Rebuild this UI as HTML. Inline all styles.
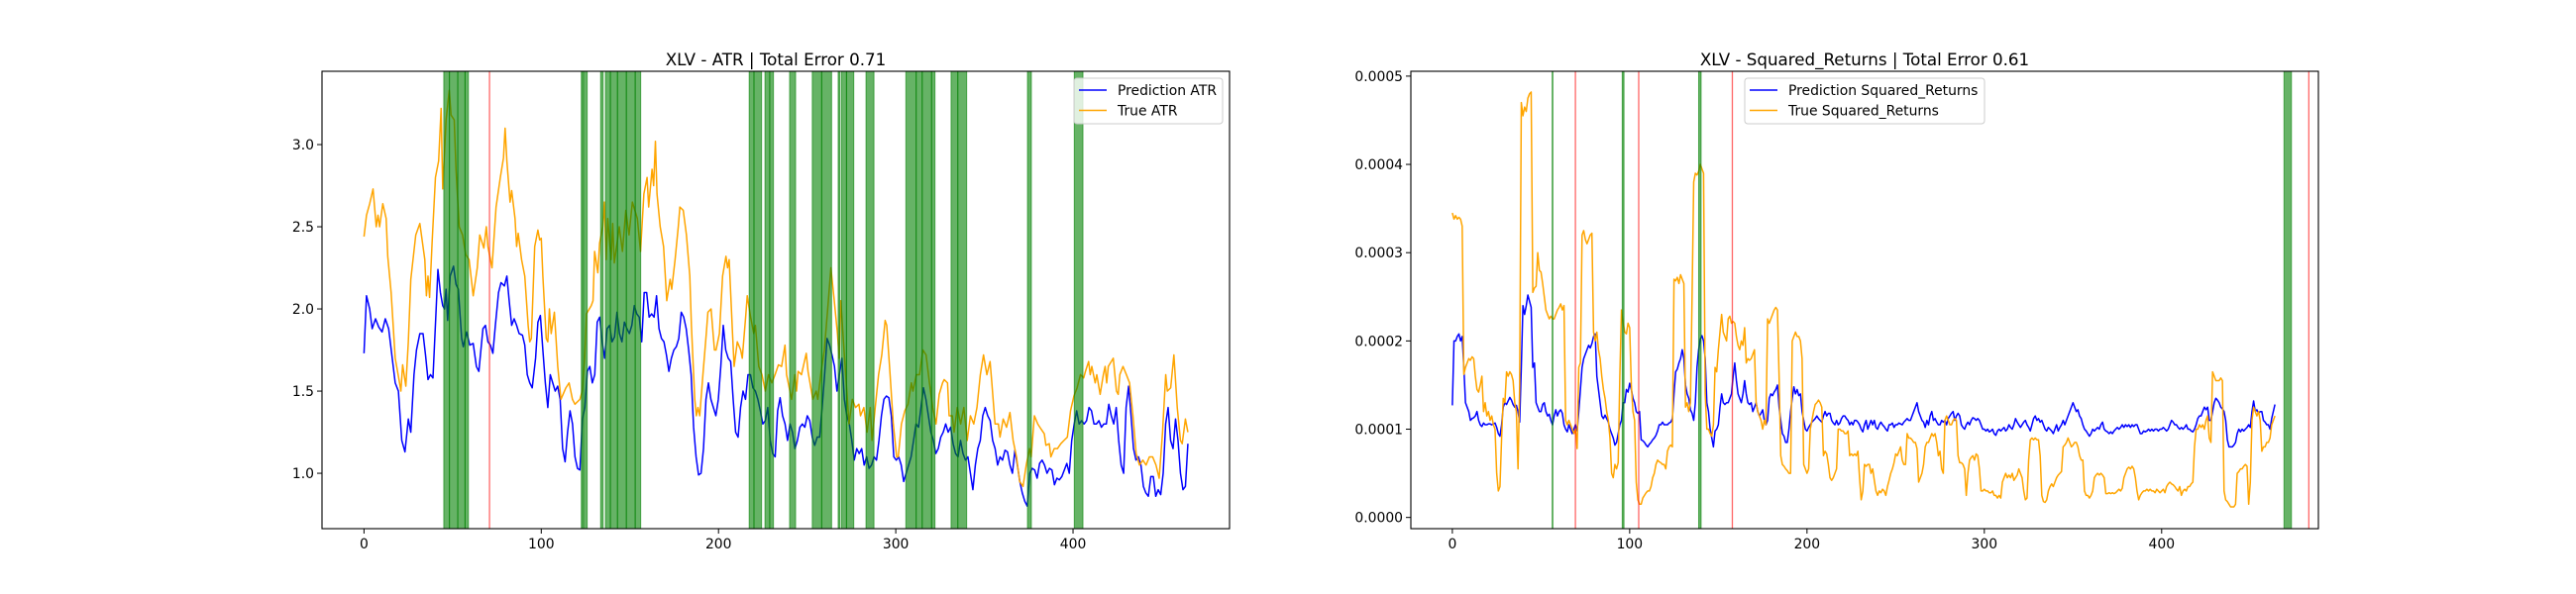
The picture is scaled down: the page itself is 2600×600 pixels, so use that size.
<!DOCTYPE html>
<html><head><meta charset="utf-8"><style>
html,body{margin:0;padding:0;background:#fff;}
svg{display:block;font-family:"DejaVu Sans","Liberation Sans",sans-serif;}
</style></head><body>
<svg id="fig" width="2600" height="600" viewBox="0 0 2600 600" xmlns="http://www.w3.org/2000/svg">
<rect x="0" y="0" width="2600" height="600" fill="#fff"/>
</svg>
<script>
// ---------- Left chart data (ATR) ----------
const atrXTicks = [0,100,200,300,400];
const atrYTicks = [1.0,1.5,2.0,2.5,3.0];
const atrPredHeadIdx = [0,1.4,3.2,4.6,6.5,8.3,10.2,12.0,13.9,15.7,17.6,19.4,21.3,23.1,25.0,26.4,28.2,29.6,31.5,33.3,34.7,36.1,37.5,38.9,40.7,41.7,43.1,44.4,45.4,46.3,47.2,48.6,50.5,51.9,53.2,55.1,56.0,57.9,59.7,61.6,63.4,64.8,67.1,68.5,69.9,71.3,72.7,74.1,75.9,77.3,79.2,80.6,81.9,83.3,84.7,86.1,87.5,89.4,90.7,92.1,93.5,94.9,96.8,98.1,99.5];
const atrPredHead = [1.73,2.08,2.0,1.88,1.94,1.89,1.86,1.94,1.88,1.72,1.55,1.5,1.2,1.13,1.33,1.25,1.6,1.75,1.85,1.85,1.72,1.57,1.6,1.58,2.0,2.24,2.1,2.02,2.0,2.12,1.93,2.2,2.26,2.15,2.12,1.82,1.77,1.86,1.78,1.79,1.65,1.62,1.88,1.9,1.8,1.78,1.73,1.9,2.1,2.16,2.14,2.2,2.05,1.9,1.94,1.9,1.85,1.84,1.78,1.6,1.55,1.52,1.7,1.92,1.96];
const atrPredTailRange = [100.9,464.8];
const atrPredTail = [1.75,1.55,1.4,1.6,1.55,1.5,1.53,1.45,1.15,1.07,1.25,1.38,1.3,1.1,1.03,1.02,1.33,1.4,1.62,1.65,1.55,1.6,1.92,1.95,1.8,1.7,1.88,1.9,1.8,1.83,1.98,1.85,1.8,1.92,1.88,1.85,1.9,2.02,1.97,1.95,1.8,2.1,2.1,1.95,1.97,1.95,2.08,1.88,1.82,1.8,1.72,1.62,1.7,1.75,1.77,1.82,1.98,1.95,1.88,1.75,1.6,1.28,1.1,0.99,1.0,1.15,1.45,1.55,1.45,1.4,1.35,1.45,1.65,1.9,1.75,1.7,1.68,1.45,1.25,1.22,1.4,1.5,1.45,1.6,1.6,1.52,1.5,1.45,1.38,1.3,1.32,1.4,1.2,1.12,1.1,1.38,1.46,1.35,1.3,1.2,1.3,1.25,1.15,1.2,1.28,1.3,1.28,1.35,1.32,1.22,1.17,1.22,1.22,1.4,1.6,1.82,1.78,1.72,1.65,1.5,1.6,1.7,1.45,1.35,1.3,1.2,1.08,1.15,1.12,1.15,1.05,1.1,1.03,1.05,1.1,1.08,1.2,1.35,1.45,1.47,1.46,1.35,1.1,1.08,1.1,1.05,0.95,1.0,1.05,1.1,1.2,1.3,1.28,1.4,1.52,1.45,1.35,1.25,1.2,1.12,1.15,1.22,1.25,1.3,1.25,1.28,1.18,1.12,1.1,1.2,1.12,1.08,1.1,1.0,0.9,1.05,1.15,1.2,1.35,1.4,1.35,1.32,1.2,1.15,1.05,1.1,1.08,1.14,1.13,1.05,1.0,1.14,1.05,0.95,0.88,0.83,0.8,1.0,1.03,1.02,0.97,1.06,1.08,1.05,1.0,1.03,1.02,0.93,0.97,0.96,0.98,1.02,1.06,1.0,1.2,1.3,1.38,1.3,1.32,1.3,1.32,1.4,1.38,1.3,1.3,1.32,1.28,1.3,1.3,1.42,1.35,1.3,1.4,1.2,1.05,1.0,1.4,1.53,1.35,1.15,1.08,1.1,1.05,0.92,0.88,0.86,0.98,0.98,0.86,0.9,0.87,1.0,1.3,1.4,1.2,1.15,1.33,1.2,1.0,0.9,0.92,1.18];
const atrTrueIdx = [0,1.4,3.2,5.1,6.9,7.9,8.8,10.6,12.5,13.4,15.3,17.6,19.9,20.8,21.8,23.6,25.0,26.4,29.2,31.5,34.3,35.2,36.1,37.0,38.4,40.3,42.1,43.5,44.4,46.3,48.1,49.1,50.9,51.9,53.7,55.6,57.4,59.3,61.6,63.9,65.3,67.6,69.0,69.9,72.2,74.5,76.9,78.7,79.6,80.6,82.4,83.3,85.2,86.1,87.0,88.9,90.7,92.6,93.5,94.4,96.3,98.1,99.1,100,100.9,102.8,103.7,104.6,105.6,107.4,109.3,111.1,113.9,115.7,117.6,119.0,121.8,123.1,124.5,125.5,128.2,129.2,130.1,131.9,132.9,134.7,135.6,136.6,137.5,139.4,140.3,141.2,144.0,145.8,147.7,149.5,151.4,154.2,156.0,157.9,159.7,160.6,162.5,163.4,164.4,165.3,167.1,169.0,170.8,172.7,173.6,175.5,177.3,178.2,180.1,181.9,183.8,184.7,186.6,187.5,188.4,189.4,191.2,193.1,194.0,195.8,197.7,198.6,200.5,202.3,204.2,205.1,206.0,207.9,208.8,210.6,212.5,213.4,215.3,216.2,218.1,219.9,220.8,222.7,224.5,226.4,228.2,230.1,231.9,233.8,235.6,237.5,238.4,241.2,243.1,244.0,244.9,246.8,249.5,250.5,253.2,255.1,256.0,257.9,259.7,261.6,263.4,265.3,267.1,268.1,269.0,270.8,272.7,273.6,275.5,277.3,279.2,280.1,282.0,283.8,285.6,286.6,288.4,290.3,292.1,294.0,294.9,296.8,298.6,300.5,301.4,303.2,305.1,306.9,308.8,309.7,311.6,313.4,315.3,317.1,319.0,320.8,322.7,324.5,326.4,327.3,329.2,330.1,331.9,332.9,334.7,336.6,338.4,340.3,342.1,344.0,345.8,347.7,349.5,351.4,353.2,354.2,356.0,357.9,358.8,360.6,362.5,364.4,366.2,368.1,369.9,371.8,373.6,375.5,376.4,378.2,380.1,381.9,383.8,384.7,386.6,387.5,389.4,391.2,393.1,394.9,396.8,398.6,400.5,402.3,404.2,406.0,407.0,408.8,409.7,410.6,412.5,413.4,415.3,417.1,418.1,419.0,419.9,422.7,424.5,425.5,426.4,428.2,430.1,431.9,433.8,435.6,437.5,439.4,441.2,443.1,444.9,446.8,448.6,450.5,452.3,453.2,455.1,456.9,458.8,460.6,461.6,463.4,464.8];
const atrTrue = [2.44,2.57,2.64,2.73,2.5,2.57,2.5,2.64,2.55,2.32,2.1,1.7,1.56,1.5,1.66,1.53,1.8,2.18,2.45,2.52,2.3,2.08,2.2,2.07,2.4,2.8,2.9,3.22,2.73,3.15,3.33,3.18,3.15,2.85,2.5,2.45,2.33,2.3,2.08,2.25,2.45,2.37,2.5,2.38,2.25,2.62,2.8,2.92,3.1,2.9,2.65,2.72,2.55,2.38,2.46,2.3,2.2,1.9,1.8,1.82,2.38,2.48,2.42,2.43,2.2,1.82,1.8,2.0,1.85,1.98,1.65,1.45,1.52,1.55,1.45,1.42,1.45,1.5,1.7,1.97,2.02,2.05,2.35,2.22,2.4,2.5,2.65,2.3,2.55,2.3,2.52,2.28,2.5,2.35,2.6,2.45,2.65,2.55,2.35,2.7,2.8,2.62,2.85,2.75,3.02,2.7,2.5,2.38,2.05,2.18,2.12,2.3,2.5,2.62,2.6,2.45,2.2,1.9,1.45,1.35,1.4,1.35,1.6,1.85,1.98,2.0,1.75,1.75,1.85,2.2,2.32,2.25,2.3,1.85,1.65,1.8,1.75,1.7,1.95,2.08,1.95,1.85,1.9,1.65,1.6,1.5,1.6,1.55,1.6,1.66,1.65,1.78,1.6,1.45,1.6,1.5,1.62,1.6,1.73,1.62,1.45,1.5,1.45,1.62,1.75,2.0,2.25,2.05,1.85,1.7,2.05,1.75,1.45,1.3,1.45,1.4,1.42,1.35,1.4,1.25,1.4,1.2,1.4,1.6,1.72,1.93,1.9,1.6,1.3,1.1,1.1,1.3,1.38,1.42,1.55,1.5,1.6,1.6,1.75,1.72,1.55,1.4,1.3,1.48,1.55,1.57,1.55,1.35,1.35,1.25,1.4,1.3,1.4,1.2,1.35,1.3,1.4,1.6,1.72,1.6,1.68,1.55,1.3,1.3,1.22,1.33,1.28,1.37,1.2,1.1,0.95,0.92,1.05,1.15,1.1,1.35,1.3,1.27,1.24,1.17,1.18,1.1,1.15,1.15,1.18,1.2,1.22,1.38,1.47,1.52,1.6,1.58,1.62,1.68,1.6,1.65,1.55,1.6,1.48,1.6,1.65,1.55,1.65,1.7,1.5,1.48,1.6,1.65,1.6,1.55,1.35,1.12,1.05,1.08,1.05,1.1,1.1,1.05,0.97,1.25,1.6,1.5,1.52,1.72,1.4,1.2,1.18,1.33,1.25];
const atrGreenStart = [45.0,48.2,52.9,57.0,122.6,123.8,133.5,136.2,139,143,148,153,217.3,220,226.2,228.9,240.1,252.9,258.2,267.5,269.4,272.2,283.2,305.7,311.5,314.9,320.2,331.2,335,374.3,400.7];
const atrGreenEnd   = [48.2,52.9,57.0,58.9,123.4,125.9,134.9,139,143,148,153,156.1,220,224.3,228.9,231.0,243.5,258.2,263.8,268.5,272.2,276.3,287.7,311.5,314.9,320.2,322.1,335,340.0,376.5,405.6];
const atrRedLines = [70.8];

// ---------- Right chart data (Squared Returns, units 1e-4) ----------
const srXTicks = [0,100,200,300,400];
const srYTicks = [0,1,2,3,4,5];
const srRange = [0,463.9];
const srPred = [1.27,2.0,2.0,2.05,2.08,2.0,2.05,1.7,1.3,1.25,1.2,1.1,1.12,1.13,1.15,1.2,1.1,1.05,1.03,1.07,1.05,1.05,1.06,1.06,1.05,1.06,1.07,1.02,0.95,0.92,1.05,1.25,1.3,1.28,1.32,1.36,1.33,1.28,1.25,1.27,1.2,1.08,1.7,2.4,2.3,2.4,2.52,2.45,2.38,1.7,1.75,1.3,1.25,1.2,1.2,1.28,1.3,1.2,1.15,1.17,1.1,1.05,1.15,1.22,1.15,1.2,1.22,1.18,1.05,1.0,0.97,1.05,1.0,0.95,1.0,1.05,0.98,1.2,1.45,1.7,1.8,1.85,1.9,1.95,1.92,1.97,2.05,2.08,1.6,1.45,1.3,1.15,1.12,1.16,1.12,1.08,1.0,0.95,0.9,0.82,0.85,0.95,1.05,1.1,1.3,1.3,1.45,1.42,1.52,1.45,1.35,1.3,1.2,1.18,1.2,0.88,0.87,0.85,0.82,0.8,0.83,0.85,0.88,0.9,0.93,0.98,1.05,1.05,1.08,1.05,1.05,1.05,1.07,1.08,1.12,1.4,1.65,1.68,1.75,1.8,1.9,1.8,1.5,1.4,1.35,1.22,1.18,1.1,1.3,1.7,1.9,2.02,2.06,2.0,1.8,1.3,1.2,1.0,0.9,0.8,0.98,1.0,1.05,1.25,1.4,1.3,1.28,1.3,1.3,1.35,1.4,1.6,1.75,1.55,1.4,1.35,1.3,1.4,1.55,1.4,1.3,1.28,1.3,1.2,1.25,1.3,1.2,1.15,1.18,1.22,1.1,1.05,1.1,1.35,1.4,1.38,1.42,1.45,1.5,1.25,1.1,0.95,0.92,0.85,0.85,1.0,1.2,1.35,1.48,1.4,1.45,1.38,1.4,1.2,1.1,1.0,0.98,1.02,1.05,1.08,1.1,1.12,1.15,1.12,1.1,1.08,1.15,1.2,1.15,1.18,1.18,1.1,1.07,1.05,1.1,1.05,1.07,1.12,1.15,1.15,1.12,1.1,1.05,1.08,1.05,1.1,1.1,1.08,1.05,1.0,0.97,1.05,1.1,1.0,1.05,1.1,1.05,1.1,1.02,1.0,1.05,1.08,1.05,1.03,1.0,0.98,1.05,1.05,1.07,1.02,1.05,1.05,1.07,1.06,1.05,1.08,1.1,1.12,1.1,1.1,1.15,1.2,1.25,1.3,1.2,1.15,1.1,1.08,1.02,1.1,1.05,1.15,1.2,1.1,1.12,1.08,1.05,1.05,1.1,1.08,1.1,1.05,1.12,1.15,1.18,1.2,1.1,1.15,1.18,1.15,1.05,1.02,1.0,1.05,1.08,1.05,1.1,1.13,1.12,1.1,1.12,1.1,1.05,1.0,1.0,0.98,1.0,0.97,0.98,1.0,0.95,0.93,0.98,1.0,0.98,1.0,1.02,0.98,1.0,1.05,1.02,1.0,1.05,1.12,1.08,1.05,1.02,1.05,1.08,1.1,1.05,1.02,0.98,1.05,1.12,1.15,1.1,1.12,1.08,1.1,1.05,1.0,0.98,1.02,1.0,0.98,0.95,1.0,1.05,0.98,1.02,1.05,1.1,1.05,1.1,1.15,1.2,1.25,1.3,1.25,1.2,1.22,1.15,1.12,1.05,1.0,0.98,0.95,0.92,0.95,1.0,0.98,1.0,1.02,1.0,1.05,1.08,1.0,0.98,0.97,0.95,0.97,0.95,0.98,1.0,1.02,1.0,1.02,1.05,1.02,1.05,1.03,1.05,1.02,1.05,1.03,1.05,1.05,1.0,0.95,0.95,0.98,0.97,0.98,1.0,0.98,1.0,0.98,1.0,1.0,0.98,1.0,1.0,1.02,1.0,0.98,1.0,1.05,1.1,1.08,1.05,1.05,1.02,1.0,1.02,1.0,1.02,1.05,1.0,1.0,0.98,0.97,1.0,1.05,1.12,1.15,1.15,1.2,1.25,1.22,1.25,1.1,1.1,1.2,1.3,1.35,1.33,1.3,1.25,1.23,1.2,1.1,0.88,0.8,0.8,0.8,0.82,0.85,0.95,1.0,0.97,1.0,0.98,1.0,1.02,1.05,1.02,1.2,1.32,1.2,1.22,1.18,1.2,1.2,1.1,1.08,1.05,1.05,1.0,1.12,1.2,1.28];
const srTrue = [3.45,3.38,3.42,3.38,3.4,3.38,3.3,1.62,1.7,1.75,1.8,1.78,1.82,1.8,1.6,1.45,1.42,1.5,1.6,1.2,1.3,1.15,1.2,1.1,1.15,1.05,1.0,0.5,0.3,0.35,0.9,1.35,1.3,1.65,1.6,1.65,1.62,1.55,1.3,1.2,0.55,1.5,4.7,4.55,4.65,4.6,4.75,4.8,4.82,2.55,2.6,2.62,3.0,2.8,2.78,2.65,2.5,2.35,2.3,2.25,2.28,2.25,2.25,2.3,2.35,2.38,2.42,2.35,2.4,1.1,1.05,1.1,1.05,1.0,0.95,1.0,0.78,1.7,1.75,3.2,3.25,3.15,3.1,3.15,3.2,3.22,2.1,2.0,2.1,1.9,1.8,1.6,1.45,1.35,1.2,1.1,0.9,0.5,0.45,0.6,0.55,0.62,1.6,2.35,2.2,2.1,2.08,2.2,2.15,1.5,1.2,1.1,0.4,0.2,0.15,0.15,0.22,0.25,0.28,0.3,0.3,0.35,0.45,0.5,0.6,0.65,0.63,0.62,0.6,0.6,0.55,0.75,0.8,0.82,0.8,2.7,2.68,2.72,2.65,2.75,2.7,2.65,1.25,1.3,1.2,1.3,2.5,3.8,3.9,3.88,3.92,4.0,3.95,3.9,1.4,1.0,1.0,0.95,0.92,1.05,1.7,1.65,1.9,2.1,2.3,2.1,2.05,2.0,2.25,2.28,2.2,2.22,2.2,2.05,1.95,1.9,2.0,1.95,2.15,1.75,1.8,1.78,1.8,1.85,1.9,1.3,1.2,1.15,1.1,1.0,1.1,1.05,2.25,2.2,2.25,2.3,2.35,2.38,2.35,1.6,0.7,0.6,0.58,0.55,0.53,0.5,0.5,2.0,2.05,2.1,2.05,2.05,2.0,1.8,0.6,0.55,0.5,0.55,1.0,1.1,1.2,1.28,1.3,1.33,1.3,1.25,0.7,0.75,0.72,0.6,0.45,0.42,0.45,0.5,0.55,1.0,1.0,0.98,0.98,0.95,0.95,0.98,0.7,0.72,0.7,0.72,0.7,0.75,0.45,0.2,0.3,0.6,0.58,0.6,0.6,0.5,0.55,0.42,0.3,0.25,0.3,0.28,0.32,0.3,0.25,0.35,0.42,0.5,0.55,0.62,0.72,0.7,0.75,0.8,0.65,0.6,0.6,0.95,0.9,0.9,0.88,0.85,0.85,0.78,0.4,0.45,0.5,0.6,0.8,0.85,0.85,0.9,0.95,0.92,0.95,0.85,0.7,0.75,0.55,0.5,1.1,1.15,1.1,1.05,1.05,1.1,1.12,1.1,0.7,0.62,0.62,0.6,0.55,0.25,0.5,0.65,0.68,0.7,0.65,0.72,0.7,0.55,0.3,0.3,0.32,0.3,0.3,0.28,0.28,0.3,0.25,0.25,0.22,0.25,0.22,0.4,0.45,0.5,0.45,0.48,0.45,0.5,0.42,0.45,0.48,0.55,0.5,0.45,0.3,0.2,0.22,0.65,0.88,0.9,0.88,0.9,0.88,0.88,0.7,0.25,0.18,0.17,0.2,0.3,0.35,0.38,0.35,0.4,0.45,0.48,0.5,0.52,0.8,0.82,0.85,0.9,0.85,0.8,0.82,0.85,0.85,0.8,0.7,0.65,0.65,0.3,0.25,0.25,0.22,0.25,0.3,0.45,0.48,0.5,0.48,0.5,0.48,0.45,0.27,0.27,0.28,0.27,0.28,0.27,0.28,0.3,0.32,0.3,0.33,0.45,0.5,0.55,0.57,0.55,0.58,0.55,0.45,0.3,0.2,0.25,0.28,0.3,0.3,0.32,0.3,0.32,0.3,0.3,0.28,0.32,0.3,0.28,0.3,0.32,0.28,0.35,0.38,0.4,0.38,0.37,0.35,0.32,0.3,0.35,0.25,0.3,0.32,0.3,0.35,0.35,0.38,0.4,0.8,1.0,1.0,1.05,1.02,1.05,1.0,1.1,1.15,0.9,0.85,1.65,1.6,1.55,1.55,1.55,1.58,1.55,0.3,0.2,0.18,0.15,0.12,0.12,0.12,0.15,0.5,0.52,0.55,0.55,0.58,0.6,0.58,0.15,0.4,1.1,1.25,1.2,1.15,1.2,1.1,0.75,0.8,0.8,0.85,0.85,0.9,1.05,1.1,1.15];
const srGreenStart = [56.3,95.8,138.9,469.0];
const srGreenEnd   = [56.7,96.8,140.3,473.2];
const srRedLines = [69.4,105.1,157.9,483.0];

const NS = "http://www.w3.org/2000/svg";
const svg = document.getElementById('fig');
function mk(tag, attrs, parent){ const e=document.createElementNS(NS,tag); for(const k in attrs) e.setAttribute(k,attrs[k]); (parent||svg).appendChild(e); return e; }

function makeAxes(cfg){
  const g = mk('g',{});
  
  
  const L=cfg.left,R=cfg.right,T=72,B=534;
  const xs = v => L + (v - cfg.xmin)/(cfg.xmax-cfg.xmin)*(R-L);
  const ys = v => B - (v - cfg.ymin)/(cfg.ymax-cfg.ymin)*(B-T);
  // series
  cfg.series.forEach(s=>{
    let d='';
    const n=Math.min(s.x.length,s.y.length);
    for(let i=0;i<n;i++){ d += (i?'L':'M') + xs(s.x[i]).toFixed(2)+' '+ys(s.y[i]).toFixed(2); }
    const p = mk('path',{d:d,fill:'none',stroke:s.color,'stroke-width':1.5,'stroke-linejoin':'round'},g);
    
    
  });
  // green spans
  const n=Math.min(cfg.gs.length,cfg.ge.length);
  for(let i=0;i<n;i++){
    const x0=xs(cfg.gs[i]), x1=xs(cfg.ge[i]);
    const r = mk('rect',{x:x0,y:T,width:Math.max(0.5,x1-x0),height:B-T,fill:'#008000','fill-opacity':0.6,stroke:'#008000','stroke-opacity':0.6,'stroke-width':1},g);
    
    
  }
  cfg.red.forEach(v=>{
    const l = mk('line',{x1:xs(v),x2:xs(v),y1:T,y2:B,stroke:'#ff0000','stroke-opacity':0.6,'stroke-width':1.3},g);
    
    
  });
  // frame
  const fr = mk('rect',{x:L,y:T,width:R-L,height:B-T,fill:'none',stroke:'#000','stroke-width':1.1},g);
  
  
  // x ticks
  cfg.xt.forEach(v=>{
    const x=xs(v);
    mk('line',{x1:x,x2:x,y1:B,y2:B+5,stroke:'#000','stroke-width':1},g);
    const t = mk('text',{x:x,y:B+20,'text-anchor':'middle','font-size':13.9,fill:'#000'},g);
    t.textContent=String(v);
    
    
  });
  cfg.yt.forEach(v=>{
    const y=ys(v);
    mk('line',{x1:L-5,x2:L,y1:y,y2:y,stroke:'#000','stroke-width':1},g);
    const t = mk('text',{x:L-8,y:y+5,'text-anchor':'end','font-size':13.9,fill:'#000'},g);
    t.textContent=cfg.yfmt(v);
    
    
  });
  const tt = mk('text',{x:(L+R)/2,y:66,'text-anchor':'middle','font-size':16.7,fill:'#000'},g);
  tt.textContent=cfg.title;
  
  
  // legend
  const lg = mk('g',{},g);
  
  
  const lb=cfg.legend;
  mk('rect',{x:lb.x,y:79,width:lb.w,height:46,rx:3,fill:'#fff','fill-opacity':0.8,stroke:'#cccccc','stroke-width':1},lg);
  cfg.series.forEach((s,i)=>{
    const y=91+i*20.5;
    mk('line',{x1:lb.x+5,x2:lb.x+33,y1:y,y2:y,stroke:s.color,'stroke-width':1.5},lg);
    const t=mk('text',{x:lb.x+44,y:y+5,'font-size':13.9,fill:'#000'},lg);
    t.textContent=s.label;
    
    
  });
}

const predIdx = atrPredHeadIdx.slice();
for(let k=0;k<atrPredTail.length;k++){ predIdx.push(atrPredTailRange[0] + k*(atrPredTailRange[1]-atrPredTailRange[0])/(atrPredTail.length-1)); }
const predVals = atrPredHead.concat(atrPredTail);

makeAxes({name:'atr-chart',left:325,right:1241,xmin:-23.7,xmax:488.3,ymin:0.663,ymax:3.446,
  title:'XLV - ATR | Total Error 0.71',xt:atrXTicks,yt:atrYTicks,yfmt:v=>v.toFixed(1),
  gs:atrGreenStart,ge:atrGreenEnd,red:atrRedLines,legend:{x:1084,w:150},
  series:[{name:'prediction-atr-line',label:'Prediction ATR',color:'#0000ff',x:predIdx,y:predVals},
          {name:'true-atr-line',label:'True ATR',color:'#ffa500',x:atrTrueIdx,y:atrTrue}]});

function evenIdx(n){ const a=[]; for(let k=0;k<n;k++) a.push(srRange[0]+k*(srRange[1]-srRange[0])/(n-1)); return a; }

makeAxes({name:'squared-returns-chart',left:1424,right:2340,xmin:-23.4,xmax:488.4,ymin:-0.127,ymax:5.055,
  title:'XLV - Squared_Returns | Total Error 0.61',xt:srXTicks,yt:srYTicks,yfmt:v=>(v/10000).toFixed(4),
  gs:srGreenStart,ge:srGreenEnd,red:srRedLines,legend:{x:1761,w:242},
  series:[{name:'prediction-squared-returns-line',label:'Prediction Squared_Returns',color:'#0000ff',x:evenIdx(srPred.length),y:srPred},
          {name:'true-squared-returns-line',label:'True Squared_Returns',color:'#ffa500',x:evenIdx(srTrue.length),y:srTrue}]});
</script>
</body></html>
